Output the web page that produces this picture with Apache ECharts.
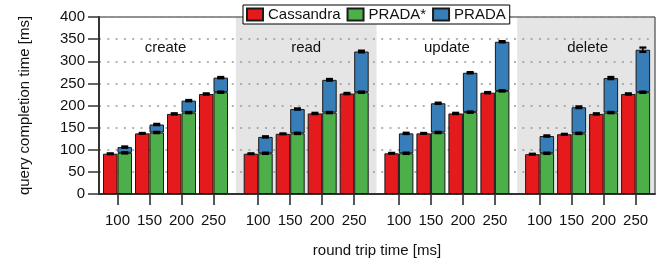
<!DOCTYPE html>
<html>
<head>
<meta charset="utf-8">
<script src="https://cdn.jsdelivr.net/npm/echarts@6/dist/echarts.min.js"></script>
<style>
  html, body { margin: 0; padding: 0; background: #fff; }
  #chart { width: 667px; height: 266px; }
</style>
</head>
<body>
<div id="chart"></div>
<script>
// data (ms)
const panels = ["create", "read", "update", "delete"];
const rtts = ["100", "150", "200", "250"];
const yTicks = [0, 50, 100, 150, 200, 250, 300, 350, 400];

const cassandra = [
  [91, 137, 181, 226],
  [91, 136, 182, 227],
  [92, 137, 182, 229],
  [90, 135, 181, 226]
];
const pradaStar = [
  [93, 139, 184, 230],
  [92, 137, 184, 230],
  [92, 139, 185, 233],
  [92, 137, 184, 230]
];
const prada = [
  [106, 157, 211, 263],
  [129, 192, 258, 322],
  [137, 205, 274, 344],
  [131, 196, 262, 326]
];
// error half-widths
const cassandraErr = [
  [1, 1, 1.5, 1.5],
  [1, 1, 1.5, 1.5],
  [1, 1, 1.5, 1.5],
  [1, 1, 1.5, 1.5]
];
const pradaStarErr = [
  [1.5, 1.5, 1.5, 1.5],
  [1.5, 1.5, 1.5, 1.5],
  [1.5, 1.5, 1.5, 1.5],
  [1.5, 1.5, 1.5, 1.5]
];
const pradaErr = [
  [1.5, 1.5, 1.5, 1.5],
  [1.5, 1.5, 2, 2],
  [1.5, 1.5, 1.5, 1.5],
  [1.5, 2, 2.5, 5]
];

const RED = "#e41a1c", GREEN = "#4daf4a", BLUE = "#377eb8";

// layout
const PLOT_LEFT = 99, PLOT_RIGHT = 655, PLOT_TOP = 17, PLOT_BOTTOM = 194;
const BAND = 32, FIRST_LEFT = 101.5, STEP = 140.7, BAR_W = 14.5;
const gridW = BAND * rtts.length;
const gridLeft = (i) => FIRST_LEFT + i * STEP;
const panelEdge = (i) => gridLeft(i) + gridW + (STEP - gridW) / 2;
const yMin = yTicks[0], yMax = yTicks[yTicks.length - 1], yStep = yTicks[1] - yTicks[0];

const chart = echarts.init(document.getElementById("chart"));

const grids = [{
  left: PLOT_LEFT, top: PLOT_TOP, width: PLOT_RIGHT - PLOT_LEFT, height: PLOT_BOTTOM - PLOT_TOP,
  show: true, borderColor: "#222", borderWidth: 1, backgroundColor: "transparent", z: 1
}];
const xAxes = [{
  gridIndex: 0, type: "value", min: 0, max: 1, z: 1,
  axisLine: { show: true, lineStyle: { color: "#333", width: 2 } },
  axisTick: { show: false }, axisLabel: { show: false }, splitLine: { show: false },
  name: "round trip time [ms]", nameLocation: "middle", nameGap: 49,
  nameTextStyle: { fontSize: 15, color: "#111" }
}];
const yAxes = [{
  gridIndex: 0, type: "value", min: yMin, max: yMax, interval: yStep, z: 1,
  axisLine: { show: true, lineStyle: { color: "#333", width: 2 } },
  axisTick: { show: true, length: 11, lineStyle: { color: "#333", width: 1.5 } },
  axisLabel: { fontSize: 15, color: "#111", margin: 14 },
  splitLine: { show: true, lineStyle: { color: "#999", width: 1.5, type: [2, 6.3] } },
  name: "query completion time [ms]", nameLocation: "middle", nameGap: 67,
  nameTextStyle: { fontSize: 15, color: "#111" }
}];
const series = [];
const titles = [];
const graphics = [];

panels.forEach((p, i) => {
  const g = i + 1;
  grids.push({ left: gridLeft(i), top: PLOT_TOP, width: gridW, height: PLOT_BOTTOM - PLOT_TOP });
  xAxes.push({
    gridIndex: g, type: "category", data: rtts,
    axisLine: { show: false },
    axisTick: { show: true, alignWithLabel: true, interval: 0, length: 11, lineStyle: { color: "#222", width: 1.5 } },
    axisLabel: { fontSize: 15, color: "#111", margin: 19, interval: 0 }
  });
  yAxes.push({ gridIndex: g, type: "value", min: yMin, max: yMax, show: false });

  const common = { type: "bar", xAxisIndex: g, yAxisIndex: g, barWidth: BAR_W, barGap: "0%" };
  series.push({
    ...common, name: "Cassandra", data: cassandra[i],
    itemStyle: { color: RED, borderColor: "#1a1a1a", borderWidth: 1 }
  });
  series.push({
    ...common, name: "PRADA*", stack: "p" + i, data: pradaStar[i],
    itemStyle: { color: GREEN, borderColor: "#1a1a1a", borderWidth: 1 }
  });
  series.push({
    ...common, name: "PRADA", stack: "p" + i, data: prada[i].map((v, k) => v - pradaStar[i][k]),
    itemStyle: { color: BLUE, borderColor: "#1a1a1a", borderWidth: 1 }
  });

  const errData = [];
  rtts.forEach((_, k) => {
    errData.push([k, cassandra[i][k], cassandraErr[i][k], -BAR_W / 2]);
    errData.push([k, pradaStar[i][k], pradaStarErr[i][k], BAR_W / 2]);
    errData.push([k, prada[i][k], pradaErr[i][k], BAR_W / 2]);
  });
  series.push({
    type: "custom", xAxisIndex: g, yAxisIndex: g, z: 3, silent: true,
    encode: { x: 0, y: 1 }, data: errData,
    renderItem(params, api) {
      const x = api.coord([api.value(0), 0])[0] + api.value(3);
      const top = api.coord([api.value(0), api.value(1) + api.value(2)])[1];
      const bot = api.coord([api.value(0), api.value(1) - api.value(2)])[1];
      const st = { stroke: "#000", lineWidth: 2.2 };
      return {
        type: "group",
        children: [
          { type: "line", shape: { x1: x, y1: top, x2: x, y2: bot }, style: { stroke: "#000", lineWidth: 1.5 } },
          { type: "line", shape: { x1: x - 3.5, y1: top, x2: x + 3.5, y2: top }, style: st },
          { type: "line", shape: { x1: x - 3.5, y1: bot, x2: x + 3.5, y2: bot }, style: st }
        ]
      };
    }
  });

  titles.push({
    text: p, left: gridLeft(i) + gridW / 2, top: 40, textAlign: "center", padding: 0,
    textStyle: { fontSize: 15, fontWeight: "normal", color: "#111" }
  });

  if (i % 2 === 1) {
    const x0 = panelEdge(i - 1);
    const x1 = i === panels.length - 1 ? PLOT_RIGHT - 0.5 : panelEdge(i);
    graphics.push({
      type: "rect", z: 0, silent: true,
      shape: { x: x0, y: PLOT_TOP + 0.5, width: x1 - x0, height: PLOT_BOTTOM - PLOT_TOP - 0.5 },
      style: { fill: "#e5e5e5" }
    });
  }
});

chart.setOption({
  animation: false,
  textStyle: { fontFamily: "Liberation Sans, Arial, Helvetica, sans-serif" },
  title: titles,
  legend: {
    data: ["Cassandra", "PRADA*", "PRADA"],
    left: 243, top: 5, icon: "rect", itemWidth: 16, itemHeight: 12, itemGap: 6,
    padding: [2, 4, 2, 3], borderColor: "#000", borderWidth: 1, backgroundColor: "#fff",
    textStyle: { fontSize: 15, color: "#111" }
  },
  graphic: graphics,
  grid: grids,
  xAxis: xAxes,
  yAxis: yAxes,
  series
});
</script>
</body>
</html>
